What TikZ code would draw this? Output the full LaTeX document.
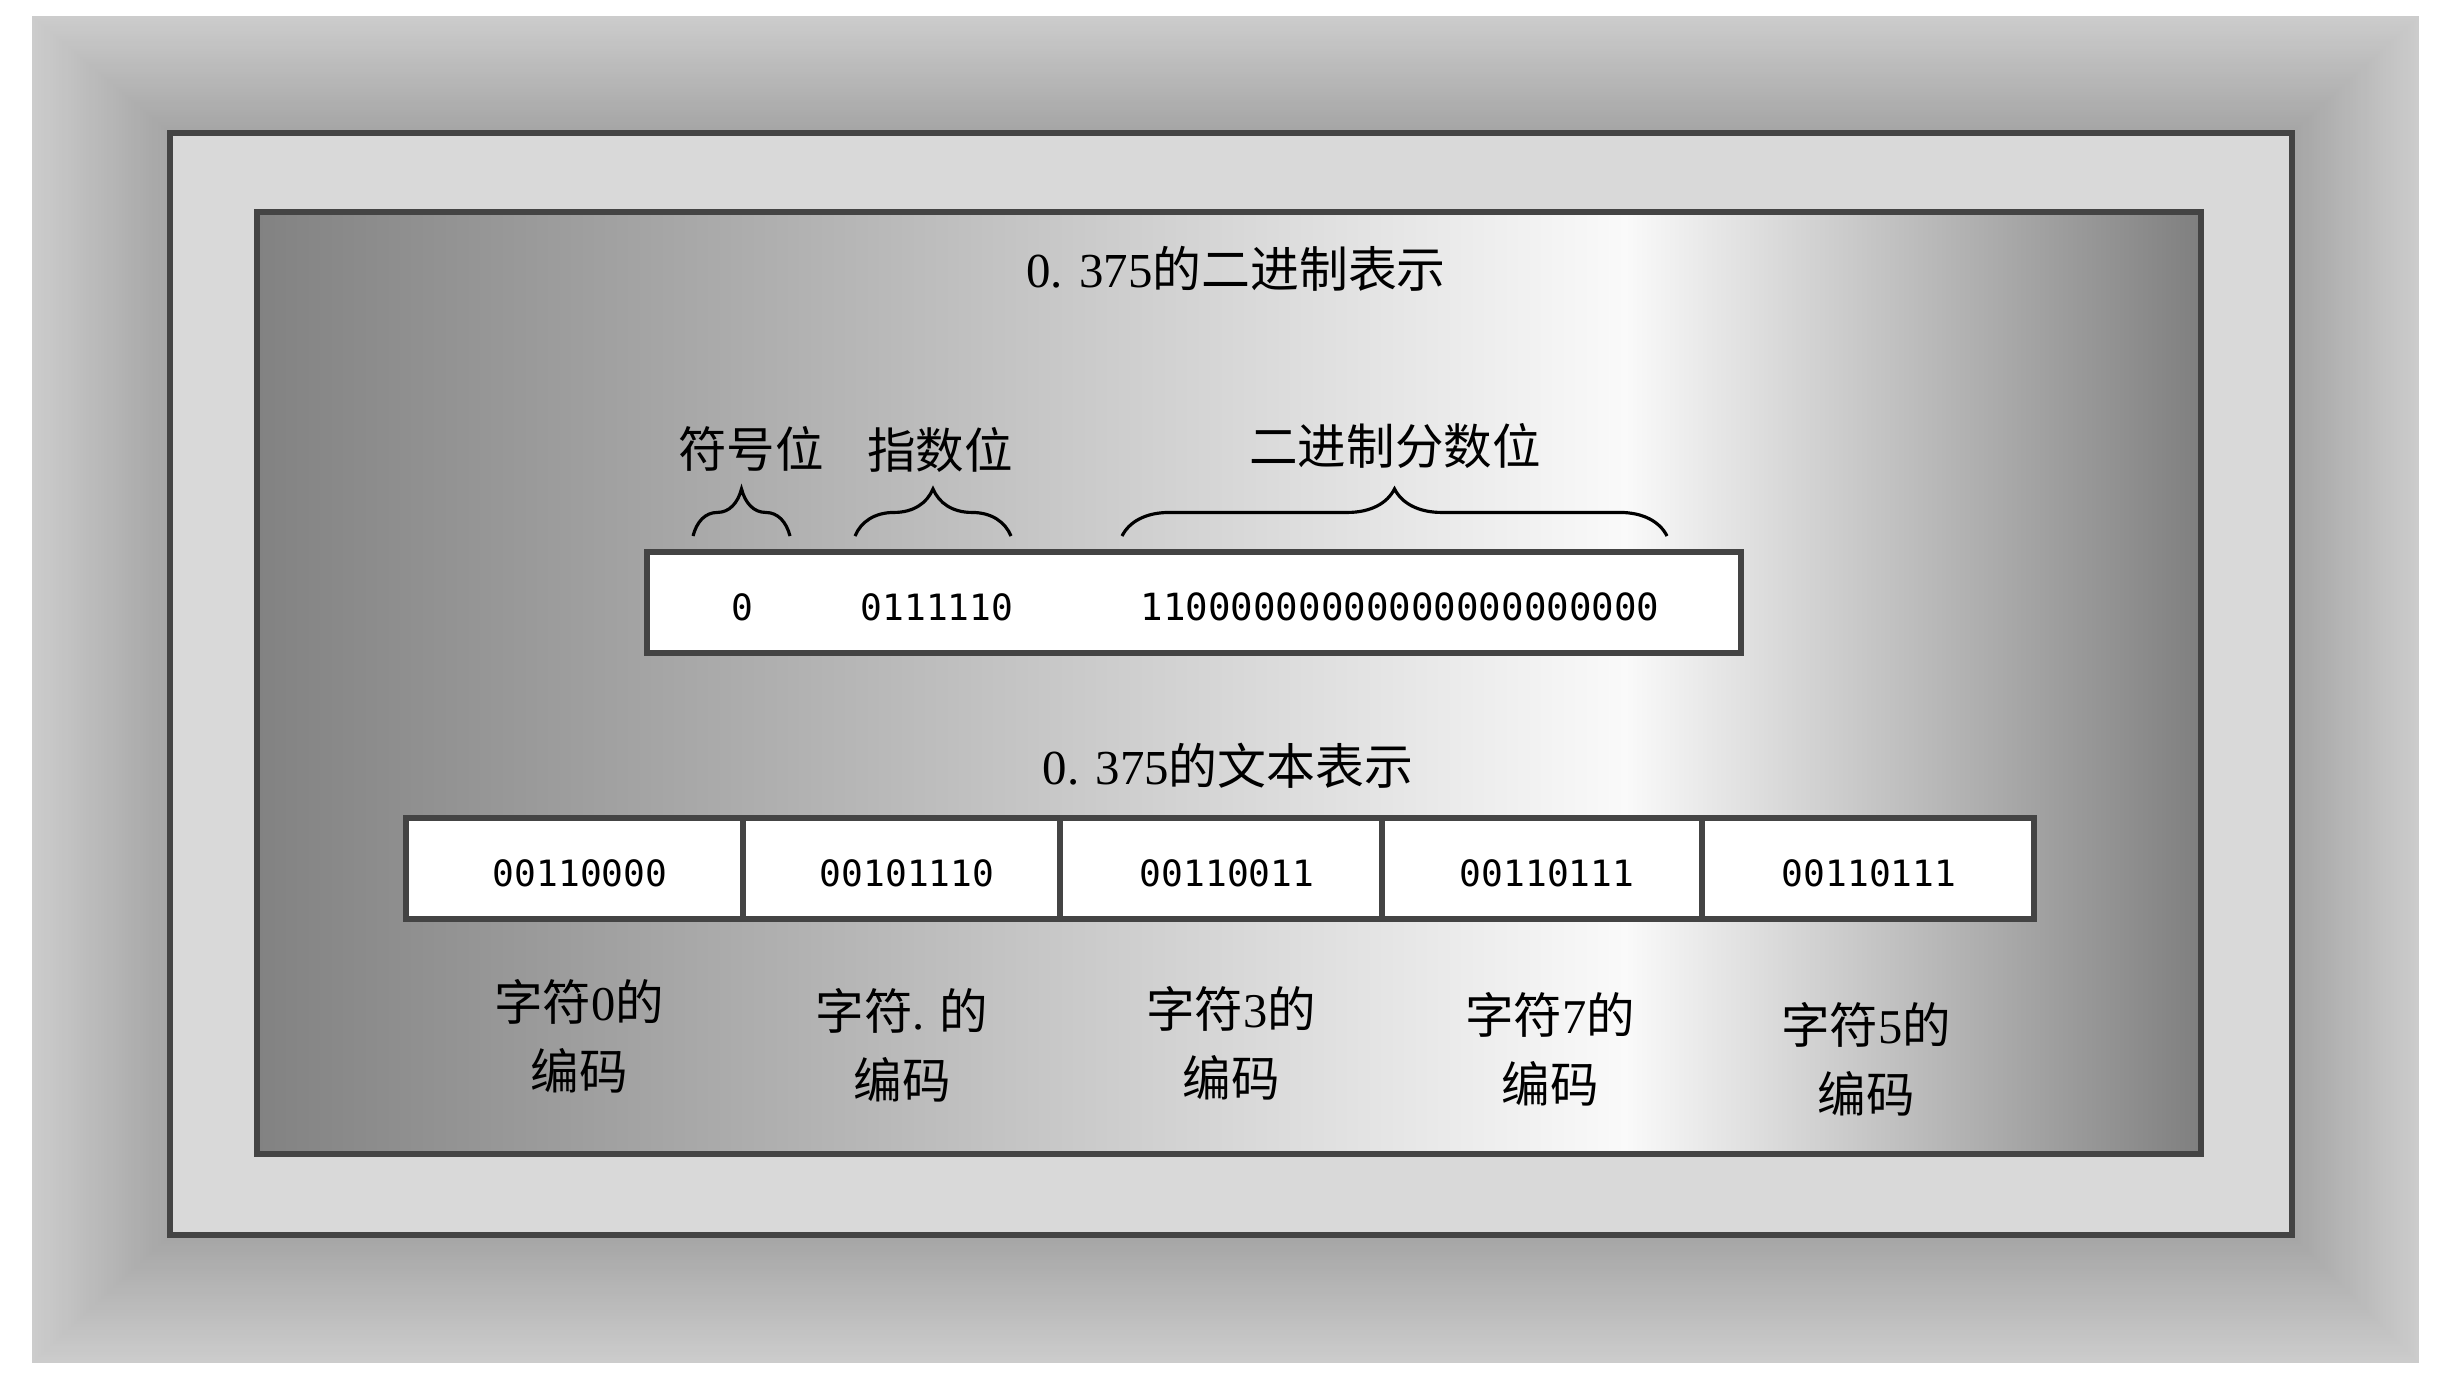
\documentclass[tikz,border=0pt]{standalone}
\usepackage{fontspec}
\setmainfont{Liberation Serif}
\newfontfamily\cjk{Noto Sans CJK SC}
\newfontfamily\bitfont{DejaVu Sans Mono}
\usetikzlibrary{decorations.pathreplacing}
\definecolor{frameline}{HTML}{444444}
\definecolor{framefill}{HTML}{D9D9D9}
\definecolor{panelL}{HTML}{828282}
\definecolor{panelM}{HTML}{FAFAFA}
\definecolor{panelR}{HTML}{7F7F7F}
\tikzset{
  frame/.style={draw=frameline, line width=1.7pt},
  titletext/.style={font=\fontsize{13.9pt}{16pt}\selectfont, inner sep=0pt},
  fieldlabel/.style={font=\cjk\fontsize{13.8pt}{16pt}\selectfont, inner sep=0pt},
  bits/.style={font=\bitfont\fontsize{10.3pt}{12pt}\selectfont, inner sep=0pt},
  codelabel/.style={font=\cjk\fontsize{13.8pt}{19.6pt}\selectfont, align=center, inner sep=0pt},
  fieldbrace/.style={decorate, decoration={brace, amplitude=13.4pt}, line width=0.9pt, black},
}
\newcommand\dg[1]{{\rmfamily #1}}
\begin{document}
\begin{tikzpicture}[x=0.01cm, y=-0.01cm]
\useasboundingbox (0,0) rectangle (2440,1384);
\fill[white] (0,0) rectangle (2440,1384);
% outer rectangular gradient
\foreach \i in {0,...,45}{
  \pgfmathsetmacro\t{\i/45}
  \pgfmathsetmacro\p{(204-39*\t)/2.55}
  \fill[white!\p!black] (32+135*\t, 16+114*\t) rectangle (2419-124*\t, 1363-125*\t);
}
% middle frame
\draw[frame, fill=framefill] (170,133) rectangle (2292,1235);
% inner panel
\shade[left color=panelL, right color=panelM] (257,212) rectangle (1626,1154);
\shade[left color=panelM, right color=panelR] (1625,212) rectangle (2201,1154);
\draw[frame] (257,212) rectangle (2201,1154);

% binary representation
\node[titletext] (bintitle) at (1236,269) {0. 375{\cjk 的二进制表示}};
\node[fieldlabel] (signlbl) at (751,449) {符号位};
\node[fieldlabel] (explbl) at (940,450) {指数位};
\node[fieldlabel] (fraclbl) at (1395,446) {二进制分数位};
\coordinate (b1s) at (693,536); \coordinate (b1e) at (790,536);
\coordinate (b2s) at (855,536); \coordinate (b2e) at (1011,536);
\coordinate (b3s) at (1122,536); \coordinate (b3e) at (1667,536);
\draw[fieldbrace] (b1s) -- (b1e);
\draw[fieldbrace] (b2s) -- (b2e);
\draw[fieldbrace] (b3s) -- (b3e);
\draw[frame, fill=white] (647,552) rectangle (1741,653);
\node[bits] (signbit) at (742,607) {0};
\node[bits] (expbits) at (937,607) {0111110};
\node[bits, font=\bitfont\fontsize{10.65pt}{12pt}\selectfont] (fracbits) at (1400,607) {11000000000000000000000};

% text representation
\node[titletext] (txttitle) at (1228,766) {0. 375{\cjk 的文本表示}};
\draw[frame, fill=white] (406,818) rectangle (2034,919);
\foreach \xx in {743,1060,1382,1702}{
  \draw[frame] (\xx,818) -- (\xx,919);
}
\node[bits] (c1) at (580,873) {00110000};
\node[bits] (c2) at (907,873) {00101110};
\node[bits] (c3) at (1227,873) {00110011};
\node[bits] (c4) at (1547,873) {00110111};
\node[bits] (c5) at (1869,873) {00110111};

\node[codelabel] (l1) at (579,1036) {字符\dg{0}的\\编码};
\node[codelabel] (l2) at (902,1045) {字符\dg{.} 的\\编码};
\node[codelabel] (l3) at (1231,1043) {字符\dg{3}的\\编码};
\node[codelabel] (l4) at (1550,1049) {字符\dg{7}的\\编码};
\node[codelabel] (l5) at (1866,1059) {字符\dg{5}的\\编码};
\end{tikzpicture}
\end{document}
